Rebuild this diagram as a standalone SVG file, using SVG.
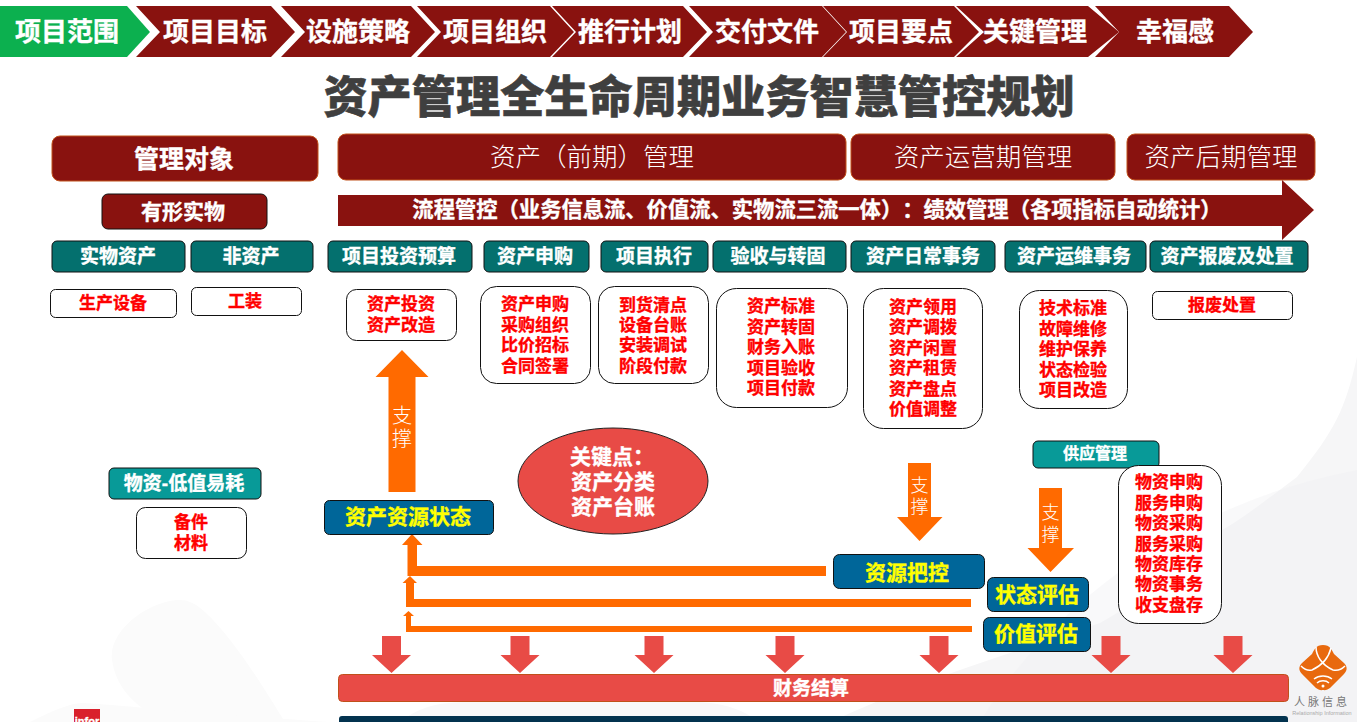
<svg xmlns="http://www.w3.org/2000/svg" width="1357" height="722" viewBox="0 0 1357 722">
<style>
text{font-family:"Liberation Sans","Noto Sans CJK SC",sans-serif;text-anchor:middle;dominant-baseline:central;font-weight:700;text-spacing-trim:space-all}
.chev{fill:#89120f}
.chevt{font-size:26px}
.hdr{fill:#89120f;stroke:#c0501a;stroke-width:1}
.hdrt{fill:#fff;font-size:25.500px;font-weight:300}
.teal{fill:#04706e;stroke:#111;stroke-width:1}
.teal2{fill:#089a98;stroke:#111;stroke-width:1}
.w{fill:#fff;stroke:#fff;stroke-width:.35px}
.wt{font-size:19px}
.box{fill:#fff;stroke:#111;stroke-width:1}
.red{fill:#f00;stroke:#f00;stroke-width:.35px;font-size:17px}
.blue{fill:#006699;stroke:#111;stroke-width:1}
.yel{fill:#ff0;stroke:#ff0;stroke-width:.35px;font-size:21px}
.org{fill:#ff6a00}
.rd{fill:#e84b46}
.thin{fill:#fff;font-size:20px;font-weight:300}
.thin2{fill:#fff;font-size:18px;font-weight:300}
.mesh{fill:#f6f6f7}
</style>
<defs>
<path id="down" class="rd" d="M-9.500 636H9.500V655H19.500L0 673L-19.500 655H-9.500Z"/>
</defs>
<rect width="1357" height="722" fill="#fff"/>
<g id="background">
<path class="mesh" d="M1357 357C1345 410 1335 430 1297 477C1260 505 1240 520 1217 533C1180 565 1150 595 1100 623C1020 650 920 680 830 722H1357Z"/>
<path d="M1357 470C1200 500 1060 590 980 722H1357Z" fill="#f1f1f3" opacity=".4"/>
<path d="M180 600C150 600 108 630 112 660C116 690 140 712 170 722H285C265 690 235 640 205 612C195 603 188 600 180 600Z" fill="#fbfbfb"/>
<path d="M30 722C50 712 70 703 82 703C110 704 180 712 330 722Z" fill="#fbfbfb"/>
<path d="M400 722C420 706 440 702 470 702H700C730 704 745 712 760 722Z" fill="#f8f8f9"/>
</g>
<g id="nav">
<g id="nav1"><path fill="#0cb04f" d="M0 6H127L150 32L127 57H0Z"/><text class="chevt w" x="67" y="32">项目范围</text></g>
<g id="nav2"><path class="chev" d="M136 6H271L295 32L271 57H136L160 32Z"/><text class="chevt w" x="215" y="32">项目目标</text></g>
<g id="nav3"><path class="chev" d="M281 6H411L435 32L411 57H281L305 32Z"/><text class="chevt w" x="358" y="32">设施策略</text></g>
<g id="nav4"><path class="chev" d="M417 6H550L574 32L550 57H417L441 32Z"/><text class="chevt w" x="495" y="32">项目组织</text></g>
<g id="nav5"><path class="chev" d="M552 6H683L707 32L683 57H552L576 32Z"/><text class="chevt w" x="630" y="32">推行计划</text></g>
<g id="nav6"><path class="chev" d="M689 6H822L846 32L822 57H689L713 32Z"/><text class="chevt w" x="767" y="32">交付文件</text></g>
<g id="nav7"><path class="chev" d="M823 6H954L979 32L954 57H823L847 32Z"/><text class="chevt w" x="901" y="32">项目要点</text></g>
<g id="nav8"><path class="chev" d="M956 6H1088L1119 32L1088 57H956L984 32Z"/><text class="chevt w" x="1035" y="32">关键管理</text></g>
<g id="nav9"><path class="chev" d="M1095 6H1229L1253 32L1229 57H1095L1119 32Z"/><text class="chevt w" x="1175" y="32">幸福感</text></g>
</g>
<text id="title" x="699" y="97" font-size="44.200" fill="#3f3f3f" stroke="#3f3f3f" stroke-width=".6" style="font-weight:900">资产管理全生命周期业务智慧管控规划</text>
<g id="n-mgmt"><rect class="hdr" x="52" y="136" width="266" height="45" rx="8"/><text class="w" x="184" y="159" font-size="25">管理对象</text></g>
<g id="n-early"><rect class="hdr" x="338" y="134" width="508" height="46" rx="8"/><text class="hdrt" x="592" y="157">资产（前期）管理</text></g>
<g id="n-ops"><rect class="hdr" x="851" y="134" width="264" height="46" rx="8"/><text class="hdrt" x="983" y="157">资产运营期管理</text></g>
<g id="n-late"><rect class="hdr" x="1127" y="134" width="188" height="46" rx="8"/><text class="hdrt" x="1221" y="157">资产后期管理</text></g>
<g id="n-tangible"><rect x="102" y="194" width="165" height="35" rx="6" fill="#89120f" stroke="#111"/><text class="w" x="183" y="211" font-size="21">有形实物</text></g>
<g id="n-flow"><path fill="#89120f" d="M338 195H1282V180L1314 210L1282 240V226H338Z"/><text class="w" x="817" y="210" font-size="21.300">流程管控（业务信息流、价值流、实物流三流一体）：绩效管理（各项指标自动统计）</text></g>
<g id="n-t1"><rect class="teal" x="52" y="241" width="133" height="31" rx="5"/><text class="wt w" x="118" y="256">实物资产</text></g>
<g id="n-t2"><rect class="teal" x="191" y="241" width="122" height="31" rx="5"/><text class="wt w" x="251" y="256">非资产</text></g>
<g id="n-t3"><rect class="teal" x="328" y="241" width="144" height="31" rx="5"/><text class="wt w" x="399" y="256">项目投资预算</text></g>
<g id="n-t4"><rect class="teal" x="484" y="241" width="105" height="31" rx="5"/><text class="wt w" x="535" y="256">资产申购</text></g>
<g id="n-t5"><rect class="teal" x="601" y="241" width="107" height="31" rx="5"/><text class="wt w" x="654" y="256">项目执行</text></g>
<g id="n-t6"><rect class="teal" x="713" y="241" width="133" height="31" rx="5"/><text class="wt w" x="778" y="256">验收与转固</text></g>
<g id="n-t7"><rect class="teal" x="851" y="241" width="144" height="31" rx="5"/><text class="wt w" x="923" y="256">资产日常事务</text></g>
<g id="n-t8"><rect class="teal" x="1005" y="241" width="141" height="31" rx="5"/><text class="wt w" x="1074" y="256">资产运维事务</text></g>
<g id="n-t9"><rect class="teal" x="1150" y="241" width="158" height="31" rx="5"/><text class="wt w" x="1227" y="256">资产报废及处置</text></g>
<g id="n-b1"><rect class="box" x="50.500" y="289.500" width="126" height="28" rx="5"/><text class="red" x="113" y="303">生产设备</text></g>
<g id="n-b2"><rect class="box" x="191.500" y="287.500" width="110" height="28" rx="5"/><text class="red" x="245" y="301">工装</text></g>
<g id="n-b3"><rect class="box" x="346.500" y="289.500" width="110" height="51" rx="10"/><text class="red" x="401" y="304">资产投资</text><text class="red" x="401" y="325">资产改造</text></g>
<g id="n-b4"><rect class="box" x="480.500" y="286.500" width="110" height="97" rx="16"/><text class="red" x="535" y="304">资产申购</text><text class="red" x="535" y="325">采购组织</text><text class="red" x="535" y="345">比价招标</text><text class="red" x="535" y="366">合同签署</text></g>
<g id="n-b5"><rect class="box" x="598.500" y="286.500" width="110" height="97" rx="16"/><text class="red" x="653" y="305">到货清点</text><text class="red" x="653" y="325">设备台账</text><text class="red" x="653" y="345">安装调试</text><text class="red" x="653" y="366">阶段付款</text></g>
<g id="n-b6"><rect class="box" x="716.500" y="288.500" width="131" height="119" rx="20"/><text class="red" x="781" y="306">资产标准</text><text class="red" x="781" y="327">资产转固</text><text class="red" x="781" y="347">财务入账</text><text class="red" x="781" y="368">项目验收</text><text class="red" x="781" y="388">项目付款</text></g>
<g id="n-b7"><rect class="box" x="863.500" y="288.500" width="119" height="140" rx="20"/><text class="red" x="923" y="307">资产领用</text><text class="red" x="923" y="327">资产调拨</text><text class="red" x="923" y="348">资产闲置</text><text class="red" x="923" y="368">资产租赁</text><text class="red" x="923" y="389">资产盘点</text><text class="red" x="923" y="409">价值调整</text></g>
<g id="n-b8"><rect class="box" x="1019.500" y="290.500" width="108" height="118" rx="20"/><text class="red" x="1073" y="308">技术标准</text><text class="red" x="1073" y="329">故障维修</text><text class="red" x="1073" y="349">维护保养</text><text class="red" x="1073" y="370">状态检验</text><text class="red" x="1073" y="390">项目改造</text></g>
<g id="n-b9"><rect class="box" x="1152.500" y="291.500" width="140" height="28" rx="5"/><text class="red" x="1222" y="305">报废处置</text></g>
<g id="n-material"><rect class="teal2" x="109" y="468" width="152" height="31" rx="5"/><text class="w" x="184" y="483" font-size="19">物资-低值易耗</text></g>
<g id="n-parts"><rect class="box" x="136.500" y="507.500" width="110" height="51" rx="9"/><text class="red" x="191" y="522">备件</text><text class="red" x="191" y="543">材料</text></g>
<g id="n-supply"><rect class="teal2" x="1033" y="441" width="126" height="27" rx="5"/><text class="w" x="1095" y="453" font-size="16">供应管理</text></g>
<g id="n-supplylist"><rect class="box" x="1118.500" y="465.500" width="103" height="158" rx="20"/><text class="red" x="1169" y="482">物资申购</text><text class="red" x="1169" y="503">服务申购</text><text class="red" x="1169" y="523">物资采购</text><text class="red" x="1169" y="544">服务采购</text><text class="red" x="1169" y="564">物资库存</text><text class="red" x="1169" y="584">物资事务</text><text class="red" x="1169" y="605">收支盘存</text></g>
<g id="connectors">
<g id="c-up"><path class="org" d="M402 350L428.500 377H415.500V492H388.500V377H375.500Z"/><text class="thin" x="402" y="416">支</text><text class="thin" x="402" y="439">撑</text></g>
<path class="org" d="M412 534L422.500 545H417V566H826V576H407.500V545H402Z"/>
<path class="org" d="M410 576L417 583H414V599H971V607H406V583H402.500Z"/>
<path class="org" d="M408.500 611L414 616H411V626H972V632H406V616H403Z"/>
<g id="c-d1"><path class="org" d="M908 463H931V517H942.500L919.500 541L897 517H908Z"/><text class="thin2" x="919.500" y="486">支</text><text class="thin2" x="919.500" y="507">撑</text></g>
<g id="c-d2"><path class="org" d="M1039 488H1062V548H1074L1050.500 572L1027.500 548H1039Z"/><text class="thin2" x="1050.500" y="513">支</text><text class="thin2" x="1050.500" y="535">撑</text></g>
<use href="#down" x="391.500"/><use href="#down" x="520"/><use href="#down" x="654"/><use href="#down" x="785"/><use href="#down" x="939"/><use href="#down" x="1111"/><use href="#down" x="1233"/>
</g>
<g id="n-key"><ellipse cx="613" cy="481" rx="95" ry="53" fill="#e84b46" stroke="#222"/><text class="w" x="612" y="456" font-size="21">关键点：</text><text class="w" x="613" y="481" font-size="21">资产分类</text><text class="w" x="613" y="506" font-size="21">资产台账</text></g>
<g id="n-state"><rect class="blue" x="324.500" y="500.500" width="169" height="34" rx="5"/><text class="yel" x="408" y="516">资产资源状态</text></g>
<g id="n-ctrl"><rect class="blue" x="833.500" y="554.500" width="151" height="34" rx="6"/><text class="yel" x="907" y="572">资源把控</text></g>
<g id="n-s"><rect class="blue" x="987.500" y="577.500" width="101" height="34" rx="6"/><text class="yel" x="1037" y="594">状态评估</text></g>
<g id="n-v"><rect class="blue" x="983.500" y="617.500" width="107" height="34" rx="6"/><text class="yel" x="1036" y="633">价值评估</text></g>
<g id="n-fin"><rect class="rd" x="338.500" y="674.500" width="950" height="27" rx="4" stroke="#c0501a"/><text class="w" x="811" y="688" font-size="19">财务结算</text></g>
<rect id="n-base" x="339" y="716" width="949" height="12" rx="3" fill="#03334f"/>
<g id="logo">
<path fill="#e8690e" d="M1323 645C1330 645 1332 650 1334 654L1344 663C1348 667 1347 671 1344 674L1330 688C1326 691 1324 690 1323 690C1322 690 1320 691 1316 688L1302 674C1299 671 1298 667 1302 663L1312 654C1314 650 1316 645 1323 645Z"/>
<path fill="none" stroke="#fff" stroke-width="1.500" d="M1316 647C1316 656 1322 665 1333 670M1331 648C1329 656 1323 665 1312 670C1308 671 1304 669 1301 666M1333 670C1337 671 1342 669 1345 666"/>
<path fill="none" stroke="#fff" stroke-width="1.400" d="M1314 679C1319 675 1327 675 1332 679M1317 683C1320 680 1326 680 1329 683"/>
<circle cx="1323" cy="686" r="1.500" fill="#fff"/>
<text x="1322" y="702" font-size="11" fill="#777" style="font-weight:400;letter-spacing:3px">人脉信息</text>
<text x="1322" y="713" font-size="5.500" fill="#aaa" style="font-weight:400">Relationship Information</text>
</g>
<g id="infor"><rect x="74" y="709" width="26" height="20" fill="#d9202c"/><text class="w" x="87" y="721" font-size="11">infor</text></g>
</svg>
